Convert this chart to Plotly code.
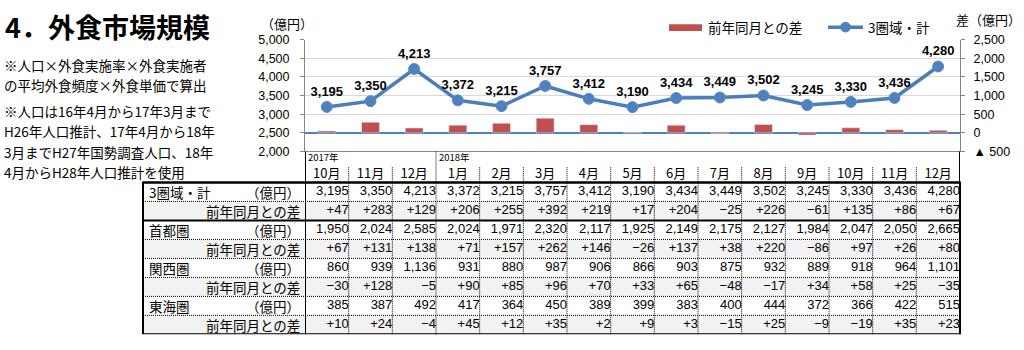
import plotly.graph_objects as go

# ---------------- data ----------------
months = ["10月", "11月", "12月", "1月", "2月", "3月", "4月", "5月", "6月",
          "7月", "8月", "9月", "10月", "11月", "12月"]
year_labels = ["2017年", "2018年"]
year_start_idx = [0, 3]

total = [3195, 3350, 4213, 3372, 3215, 3757, 3412, 3190, 3434, 3449, 3502, 3245, 3330, 3436, 4280]
total_diff = [47, 283, 129, 206, 255, 392, 219, 17, 204, -25, 226, -61, 135, 86, 67]
shuto = [1950, 2024, 2585, 2024, 1971, 2320, 2117, 1925, 2149, 2175, 2127, 1984, 2047, 2050, 2665]
shuto_diff = [67, 131, 138, 71, 157, 262, 146, -26, 137, 38, 220, -86, 97, 26, 80]
kansai = [860, 939, 1136, 931, 880, 987, 906, 866, 903, 875, 932, 889, 918, 964, 1101]
kansai_diff = [-30, 128, -5, 90, 85, 96, 70, 33, 65, -48, -17, 34, 58, 25, -35]
tokai = [385, 387, 492, 417, 364, 450, 389, 399, 383, 400, 444, 372, 366, 422, 515]
tokai_diff = [10, 24, -4, 45, 12, 35, 2, 9, 3, -15, 25, -9, -19, 35, 23]

region_names = ["3圏域・計", "首都圏", "関西圏", "東海圏"]
region_values = [total, shuto, kansai, tokai]
region_diffs = [total_diff, shuto_diff, kansai_diff, tokai_diff]

left_ticks = [2000, 2500, 3000, 3500, 4000, 4500, 5000]
right_ticks = [-500, 0, 500, 1000, 1500, 2000, 2500]
right_ticktext = ["▲ 500", "0", "500", "1,000", "1,500", "2,000", "2,500"]

notes = ["※人口×外食実施率×外食実施者",
         "の平均外食頻度×外食単価で算出",
         "※人口は16年4月から17年3月まで",
         "H26年人口推計、17年4月から18年",
         "3月までH27年国勢調査人口、18年",
         "4月からH28年人口推計を使用"]
note_y = [60, 81, 108, 129.5, 151, 172]

title = "4．外食市場規模"
legend_bar = "前年同月との差"
legend_line = "3圏域・計"
unit_left = "（億円）"
unit_right = "差（億円）"
diff_label = "前年同月との差"

# ---------------- layout helpers ----------------
W, H = 1024, 350
def px(x): return x / W
def py(y): return 1 - y / H

X0, X1 = 305, 960
CH_TOP, CH_BOT = 34, 150.5
TB_TOP, TB_BOT = 163, 341
TB_LEFT = 143

JP = "Noto Sans CJK JP"
NUM = "Liberation Sans"
BLUE = "#4A7EBB"
RED = "#C0504D"
GRAY = "#868686"

idx = list(range(len(months)))

def fmt_val(v): return f"{v:,}"
def fmt_diff(v): return f"+{v}" if v > 0 else ("−" + str(abs(v)) if v < 0 else "0")

fig = go.Figure()

# chart
fig.add_trace(go.Bar(x=idx, y=total_diff, yaxis="y2", marker_color=RED, width=0.41,
                     name=legend_bar, showlegend=False, hoverinfo="skip"))
fig.add_trace(go.Scatter(x=idx, y=total, yaxis="y", mode="lines+markers+text",
                         line=dict(color=BLUE, width=3.5),
                         marker=dict(color="#4F81BD", size=11, line=dict(color="#5B8CC8", width=1)),
                         text=[fmt_val(v) for v in total], textposition="top center",
                         textfont=dict(family=NUM, size=13, color="black", weight="bold"),
                         cliponaxis=False, name=legend_line, showlegend=False, hoverinfo="skip"))

# table text
for g, (vals, diffs) in enumerate(zip(region_values, region_diffs)):
    for r, arr, f in ((2 * g, vals, fmt_val), (2 * g + 1, diffs, fmt_diff)):
        fig.add_trace(go.Scatter(x=[i + 0.5 for i in idx], y=[r] * len(idx), xaxis="x", yaxis="y3",
                                 mode="text", text=[f(v) for v in arr], textposition="middle left",
                                 textfont=dict(family=NUM, size=13, color="black"),
                                 cliponaxis=False, showlegend=False, hoverinfo="skip"))
fig.add_trace(go.Scatter(x=idx, y=[-0.9] * len(idx), xaxis="x", yaxis="y3", mode="text",
                         text=months, textposition="middle center",
                         textfont=dict(family=JP, size=13, color="black"),
                         cliponaxis=False, showlegend=False, hoverinfo="skip"))

shapes = []
annotations = []

# gray rows
for g in range(4):
    r = 2 * g + 1
    shapes.append(dict(type="rect", xref="paper", yref="y3", x0=px(TB_LEFT), x1=px(X1),
                       y0=r - 0.5, y1=r + 0.5, fillcolor="#F2F2F2", line=dict(width=0), layer="below"))
# horizontal lines
for r in range(7):
    if r == 1:
        shapes.append(dict(type="line", xref="paper", yref="y3", x0=px(TB_LEFT), x1=px(X1),
                           y0=r + 0.5, y1=r + 0.5, line=dict(color="black", width=2)))
    else:
        shapes.append(dict(type="line", xref="paper", yref="y3", x0=px(TB_LEFT), x1=px(X1),
                           y0=r + 0.5, y1=r + 0.5, line=dict(color="black", width=1, dash="1px,1px")))
# vertical dotted separators
for i in range(len(idx) - 1):
    if i + 1 in year_start_idx:
        shapes.append(dict(type="line", xref="x", yref="paper", x0=i + 0.5, x1=i + 0.5,
                           y0=py(CH_BOT), y1=py(TB_BOT), line=dict(color="black", width=1, dash="1px,1px")))
    else:
        shapes.append(dict(type="line", xref="x", yref="y3", x0=i + 0.5, x1=i + 0.5,
                           y0=-1.3, y1=7.5, line=dict(color="black", width=1, dash="1px,1px")))
# body top + border
shapes.append(dict(type="line", xref="paper", yref="y3", x0=px(TB_LEFT), x1=px(X1),
                   y0=-0.5, y1=-0.5, line=dict(color="black", width=2)))
shapes.append(dict(type="rect", xref="paper", yref="y3", x0=px(TB_LEFT), x1=px(X1),
                   y0=-0.5, y1=7.5, line=dict(color="black", width=2)))
for xv in (-0.5, len(idx) - 0.5):
    shapes.append(dict(type="line", xref="x", yref="paper", x0=xv, x1=xv,
                       y0=py(CH_BOT), y1=py(TB_BOT), line=dict(color="black", width=2)))

# row labels
for g, name in enumerate(region_names):
    annotations.append(dict(xref="paper", yref="y3", x=px(TB_LEFT + 4), y=2 * g, text=name,
                            xanchor="left", yanchor="middle", showarrow=False,
                            font=dict(family=JP, size=13.5, color="black")))
    annotations.append(dict(xref="paper", yref="y3", x=px(X0 - 3), y=2 * g, text=unit_left,
                            xanchor="right", yanchor="middle", showarrow=False,
                            font=dict(family=JP, size=13.5, color="black")))
    annotations.append(dict(xref="paper", yref="y3", x=px(X0 - 3), y=2 * g + 1, text=diff_label,
                            xanchor="right", yanchor="middle", showarrow=False,
                            font=dict(family=JP, size=13.5, color="black")))
# year labels
for lab, i in zip(year_labels, year_start_idx):
    annotations.append(dict(xref="x", yref="paper", x=i - 0.5, y=py(156.5), text=lab, xshift=1,
                            xanchor="left", yanchor="middle", showarrow=False,
                            font=dict(family=JP, size=9.5, color="black")))

# title & notes
annotations.append(dict(xref="paper", yref="paper", x=px(3), y=py(20), text="<b>" + title + "</b>",
                        xanchor="left", yanchor="middle", showarrow=False,
                        font=dict(family=JP, size=27, color="black")))
for t, yy in zip(notes, note_y):
    annotations.append(dict(xref="paper", yref="paper", x=px(2), y=py(yy), text=t,
                            xanchor="left", yanchor="middle", showarrow=False,
                            font=dict(family=JP, size=13.5, color="black")))
annotations.append(dict(xref="paper", yref="paper", x=px(287), y=py(17), text=unit_left,
                        xanchor="center", yanchor="middle", showarrow=False,
                        font=dict(family=JP, size=13, color="black")))
annotations.append(dict(xref="paper", yref="paper", x=px(988), y=py(13), text=unit_right,
                        xanchor="center", yanchor="middle", showarrow=False,
                        font=dict(family=JP, size=13, color="black")))

# custom legend
shapes.append(dict(type="rect", xref="paper", yref="paper", x0=px(669), x1=px(702),
                   y0=py(25), y1=py(18), fillcolor=RED, line=dict(width=0)))
shapes.append(dict(type="line", xref="paper", yref="paper", x0=px(828), x1=px(863),
                   y0=py(21), y1=py(21), line=dict(color=BLUE, width=3.5)))
shapes.append(dict(type="circle", xref="paper", yref="paper", x0=px(840.5), x1=px(850.5),
                   y0=py(26), y1=py(16), fillcolor="#4F81BD", line=dict(color="#4F81BD", width=1)))
annotations.append(dict(xref="paper", yref="paper", x=px(706), y=py(21), text=legend_bar,
                        xanchor="left", yanchor="middle", showarrow=False,
                        font=dict(family=JP, size=13.5, color="black")))
annotations.append(dict(xref="paper", yref="paper", x=px(866), y=py(21), text=legend_line,
                        xanchor="left", yanchor="middle", showarrow=False,
                        font=dict(family=JP, size=13.5, color="black")))

fig.update_layout(
    width=W, height=H, margin=dict(l=0, r=0, t=0, b=0),
    paper_bgcolor="white", plot_bgcolor="white", showlegend=False,
    xaxis=dict(domain=[px(X0), px(X1)], range=[-0.5, len(idx) - 0.5], anchor="y",
               showticklabels=False, showgrid=False, zeroline=False, ticks="",
               showline=True, linecolor=GRAY, linewidth=1, fixedrange=True),
    yaxis=dict(domain=[py(CH_BOT), py(CH_TOP)], range=[2000, 5000], anchor="x",
               tickvals=left_ticks, ticktext=[f"{v:,}" for v in left_ticks],
               showgrid=True, gridcolor="#D9D9D9", gridwidth=1, zeroline=False,
               showline=True, linecolor=GRAY, linewidth=1, ticks="outside", ticklen=4,
               tickcolor=GRAY, tickfont=dict(family=NUM, size=12.5, color="black"),
               ticklabelstandoff=8, fixedrange=True),
    yaxis2=dict(overlaying="y", side="right", anchor="x", range=[-500, 2500],
                tickvals=right_ticks, ticktext=right_ticktext, showgrid=False,
                zeroline=True, zerolinecolor="#4F81BD", zerolinewidth=1.5,
                showline=True, linecolor=GRAY, linewidth=1, ticks="outside", ticklen=4,
                tickcolor=GRAY, tickfont=dict(family=NUM, size=12.5, color="black"),
                ticklabelstandoff=6, fixedrange=True),
    yaxis3=dict(domain=[py(TB_BOT), py(TB_TOP)], range=[7.5, -1.5], anchor="x",
                visible=False, fixedrange=True),
    shapes=shapes, annotations=annotations,
)

fig.write_html("out.html")
